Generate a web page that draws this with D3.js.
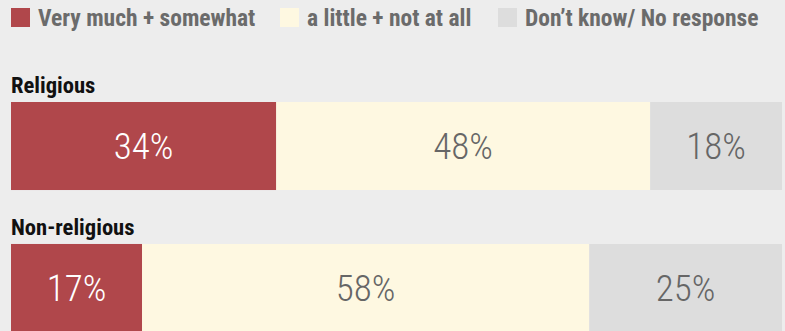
<!DOCTYPE html>
<html lang="en">
<head>
  <meta charset="UTF-8">
  <title>Chart</title>
  <style>
    body { margin: 0; background: #ededed; }
    svg { display: block; }
    text { font-family: "Roboto Condensed", "Liberation Sans Narrow", "DejaVu Sans Condensed", sans-serif; }
  </style>
</head>
<body>
  <script src="https://d3js.org/d3.v7.min.js"></script>
  <script>
    const width = 785;
    const height = 331;

    const series = ['Very much + somewhat', 'a little + not at all', 'Don\u2019t know/ No response'];
    const colors = ['#b0474b', '#fef8e1', '#dddddd'];
    const textColors = ['#ffffff', '#666666', '#666666'];

    const groups = ['Religious', 'Non-religious'];
    // shares as drawn (labels are the rounded figures printed on the bars)
    const religious = [34.4, 48.5, 17.1];
    const nonReligious = [17.0, 58.0, 25.0];
    const religiousLabels = ['34%', '48%', '18%'];
    const nonReligiousLabels = ['17%', '58%', '25%'];

    const rows = [
      { name: groups[0], values: religious, labels: religiousLabels },
      { name: groups[1], values: nonReligious, labels: nonReligiousLabels },
    ];

    const margin = { left: 11, right: 3 };

    const x = d3.scaleLinear()
      .domain([0, 100])
      .range([margin.left, width - margin.right]);

    const y = d3.scaleBand()
      .domain(groups)
      .range([102, 332])
      .paddingInner(0.38)
      .paddingOuter(0);

    const svg = d3.select('body')
      .append('svg')
      .attr('width', width)
      .attr('height', height);

    // legend
    const legendX = [11, 280, 498];
    const legend = svg.append('g')
      .selectAll('g')
      .data(series)
      .join('g')
      .attr('transform', (d, i) => `translate(${legendX[i]}, 8)`);

    legend.append('rect')
      .attr('width', 19)
      .attr('height', 19)
      .attr('fill', (d, i) => colors[i]);

    legend.append('text')
      .attr('x', 27)
      .attr('y', 18)
      .attr('font-size', 23.5)
      .attr('font-weight', 700)
      .attr('fill', '#6b6b6b')
      .text(d => d);

    const row = svg.append('g')
      .selectAll('g')
      .data(rows)
      .join('g')
      .attr('transform', d => `translate(0, ${y(d.name)})`);

    row.append('text')
      .attr('x', margin.left)
      .attr('y', -9)
      .attr('font-size', 22.6)
      .attr('font-weight', 700)
      .attr('fill', '#111')
      .text(d => d.name);

    const segs = row.selectAll('g.seg')
      .data(d => {
        let acc = 0;
        return d.values.map((v, i) => {
          const s = { i, x0: acc, x1: acc + v, label: d.labels[i] };
          acc += v;
          return s;
        });
      })
      .join('g')
      .attr('class', 'seg');

    segs.append('rect')
      .attr('x', d => x(d.x0))
      .attr('width', d => x(d.x1) - x(d.x0))
      .attr('height', y.bandwidth())
      .attr('fill', d => colors[d.i]);

    segs.append('text')
      .attr('x', d => (x(d.x0) + x(d.x1)) / 2)
      .attr('y', y.bandwidth() / 2 + 13)
      .attr('text-anchor', 'middle')
      .attr('font-size', 37)
      .attr('font-weight', 300)
      .attr('fill', d => textColors[d.i])
      .text(d => d.label);
  </script>
</body>
</html>
